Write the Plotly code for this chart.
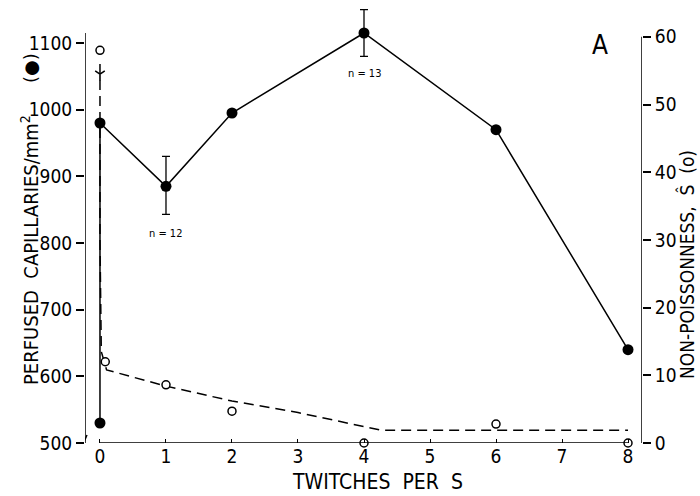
import plotly.graph_objects as go

# ---------------- data ----------------
twitch_filled = [0, 0, 1, 2, 4, 6, 8]
capillaries = [530, 980, 885, 995, 1115, 970, 640]
err_plus = [0, 0, 45, 0, 35, 0, 0]
err_minus = [0, 0, 42, 0, 35, 0, 0]

twitch_open = [0, 0.08, 1, 2, 4, 6, 8]
non_poisson = [58, 12, 8.6, 4.7, 0, 2.8, 0]

fit_x = [0.0, 0.0, 0.02, 0.1, 1, 2, 3, 4, 4.25, 8]
fit_y = [56, 30, 13.5, 10.8, 8.4, 6.2, 4.5, 2.4, 1.9, 1.9]
arrow_x = [0.0]
arrow_y = [54.5]

x_ticks = [0, 1, 2, 3, 4, 5, 6, 7, 8]
left_ticks = [500, 600, 700, 800, 900, 1000, 1100]
right_ticks = [0, 10, 20, 30, 40, 50, 60]

FONT = "Liberation Sans Narrow, DejaVu Sans Condensed, Liberation Sans, Arial, sans-serif"
W, H = 700, 496
ML, MR, MT, MB = 85, 58, 5, 53
PW, PH = W - ML - MR, H - MT - MB


def px_x(p):
    return (p - ML) / PW


def px_y(p):
    return 1 - (p - MT) / PH


fig = go.Figure()

# fitted dashed curve (right axis)
fig.add_trace(go.Scatter(x=fit_x, y=fit_y, yaxis="y2", mode="lines",
                         line=dict(color="black", width=1.5, dash="10px,6px"),
                         hoverinfo="skip", showlegend=False))
# arrow head on the dashed curve
fig.add_trace(go.Scatter(x=arrow_x, y=arrow_y, yaxis="y2", mode="markers",
                         marker=dict(symbol="y-down", size=8, line=dict(color="black", width=1.6)),
                         cliponaxis=False, showlegend=False, hoverinfo="skip"))
# open circles (right axis)
fig.add_trace(go.Scatter(x=twitch_open, y=non_poisson, yaxis="y2", mode="markers",
                         marker=dict(symbol="circle", size=8, color="white",
                                     line=dict(color="black", width=1.5)),
                         cliponaxis=False, showlegend=False))
# filled circles with solid line (left axis)
fig.add_trace(go.Scatter(x=twitch_filled, y=capillaries, mode="lines+markers",
                         line=dict(color="black", width=1.5),
                         marker=dict(symbol="circle", size=11, color="black"),
                         error_y=dict(type="data", symmetric=False, array=err_plus,
                                      arrayminus=err_minus, color="black",
                                      thickness=1.3, width=4),
                         cliponaxis=False, showlegend=False))

x0, x1 = -0.227, 8.212
fig.update_layout(
    width=W, height=H, margin=dict(l=ML, r=MR, t=MT, b=MB),
    paper_bgcolor="white", plot_bgcolor="white",
    font=dict(family=FONT, color="black", size=19),
    xaxis=dict(range=[x0, x1], tickvals=x_ticks, ticktext=[str(v) for v in x_ticks],
               showgrid=False, zeroline=False, showline=False,
               ticks="inside", ticklen=4, tickcolor="black", tickwidth=1,
               tickfont=dict(size=19)),
    yaxis=dict(range=[500, 1157], tickvals=left_ticks, showgrid=False, zeroline=False,
               showline=False, ticks="outside", ticklen=8, tickwidth=1.5,
               tickcolor="black", tickfont=dict(size=19)),
    yaxis2=dict(range=[0, 64.7], tickvals=right_ticks, overlaying="y", side="right",
                showgrid=False, zeroline=False, showline=False, ticks="outside",
                ticklen=8, tickwidth=1.5, tickcolor="black", tickfont=dict(size=19)),
)

# axis lines
fig.add_shape(type="line", xref="x", yref="y", x0=x0, x1=x0, y0=500, y1=1115,
              line=dict(color="black", width=1.5))
fig.add_shape(type="line", xref="x", yref="y", x0=x0 - 0.045, x1=x0 + 0.03, y0=495, y1=512,
              line=dict(color="black", width=1.5))
fig.add_shape(type="line", xref="x", yref="y2", x0=x1, x1=x1, y0=0, y1=60,
              line=dict(color="black", width=1.5))
fig.add_shape(type="line", xref="x", yref="y", x0=0, x1=8, y0=500, y1=500,
              line=dict(color="black", width=1.5))

# titles and labels
fig.add_annotation(text="PERFUSED  CAPILLARIES/mm<sup>2</sup>", textangle=-90,
                   xref="paper", yref="paper", x=px_x(30), y=px_y(250), showarrow=False,
                   font=dict(size=20), xanchor="center", yanchor="middle")
fig.add_annotation(text="(●)", textangle=-90,
                   xref="paper", yref="paper", x=px_x(30), y=px_y(68), showarrow=False,
                   font=dict(size=18, family="DejaVu Sans"), xanchor="center", yanchor="middle")
fig.add_annotation(text="NON-POISSONNESS,  Ŝ  (o)", textangle=-90,
                   xref="paper", yref="paper", x=px_x(686), y=px_y(265), showarrow=False,
                   font=dict(size=19), xanchor="center", yanchor="middle")
fig.add_annotation(text="TWITCHES  PER  S", xref="x", yref="paper", x=4.2,
                   y=px_y(482), showarrow=False,
                   font=dict(size=21), xanchor="center", yanchor="middle")
fig.add_annotation(text="A", xref="paper", yref="paper", x=px_x(600), y=px_y(45),
                   showarrow=False, font=dict(size=26), xanchor="center", yanchor="middle")
fig.add_annotation(text="n = 12", xref="x", yref="y", x=1, y=815, showarrow=False,
                   font=dict(size=11))
fig.add_annotation(text="n = 13", xref="x", yref="y", x=4, y=1055, showarrow=False,
                   font=dict(size=11))

fig.write_html("out.html")
